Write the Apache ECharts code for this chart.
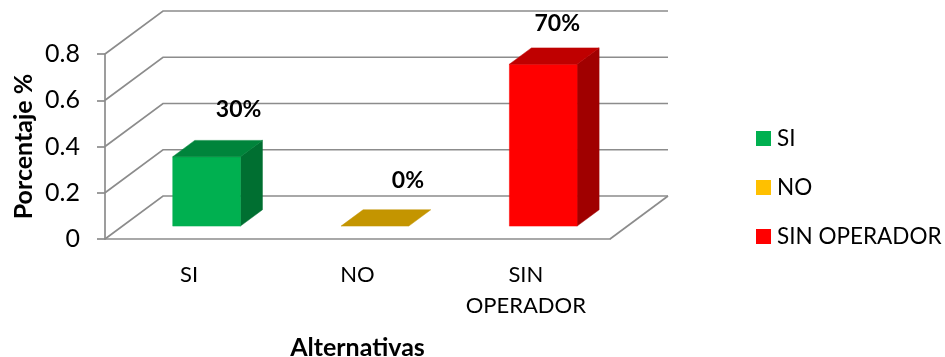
<!DOCTYPE html>
<html><head><meta charset="utf-8">
<style>html,body{margin:0;padding:0;background:#fff}#c{width:945px;height:357px}</style>
<script src="https://cdn.jsdelivr.net/npm/echarts@6/dist/echarts.min.js"></script>
</head><body><div id="c"></div>
<script>
const categories = ['SI', 'NO', 'SIN OPERADOR'];
const values = [0.3, 0, 0.7];
const yTicks = [0, 0.2, 0.4, 0.6, 0.8];

const FONT = 'Lato';
const GRID = '#8c8c8c';
const DEPTH = [58, -43];
const BAR_RATIO = 0.402, FRONT = 0.3, BAR_DEPTH = 0.38;
const faces = [
  {front:'#00B050', top:'#00843B', side:'#006F31', legend:'#00B050'},
  {front:'#FFC000', top:'#C49500', side:'#A67E00', legend:'#FFC000'},
  {front:'#FF0000', top:'#BF0000', side:'#A00000', legend:'#FF0000'}
];
const labelNudge = [[32,-47],[33,-46],[14,-41]];

function poly(pts, fill){
  return {type:'polygon', shape:{points:pts}, style:{fill:fill, stroke:fill, lineWidth:0.5}};
}
function barRender(i){
  return function(params, api){
    const p = api.coord([api.value(0), api.value(1)]);
    const base = api.coord([api.value(0), 0]);
    const band = api.size([1,0])[0];
    const w = band*BAR_RATIO;
    const fx = DEPTH[0]*FRONT, fy = DEPTH[1]*FRONT;
    const dx = DEPTH[0]*BAR_DEPTH, dy = DEPTH[1]*BAR_DEPTH;
    const l = p[0]-w/2+fx, r = p[0]+w/2+fx, t = p[1]+fy, b = base[1]+fy;
    const kids = [];
    if (b-t > 0.5) {
      kids.push(poly([[r,b],[r+dx,b+dy],[r+dx,t+dy],[r,t]], faces[i].side));
      kids.push(poly([[l,b],[r,b],[r,t],[l,t]], faces[i].front));
    }
    kids.push(poly([[l,t],[r,t],[r+dx,t+dy],[l+dx,t+dy]], faces[i].top));
    kids.push({type:'text', style:{
      text: Math.round(api.value(1)*100)+'%',
      x: p[0]+fx+labelNudge[i][0], y: t+labelNudge[i][1],
      align:'center', verticalAlign:'middle',
      font:'bold 23px '+FONT, fill:'#000'}});
    return {type:'group', children:kids};
  };
}
function wallRender(params, api){
  const c = params.coordSys;
  const y = api.coord([0, api.value(1)])[1];
  const L = c.x, R = c.x+c.width;
  const st = {stroke:GRID, lineWidth:1.7, fill:'none'};
  const kids = [{type:'polyline', shape:{points:[[L,y],[L+DEPTH[0],y+DEPTH[1]],[R+DEPTH[0],y+DEPTH[1]]]}, style:st}];
  if (api.value(1) === 0) kids.push({type:'line', shape:{x1:R,y1:y,x2:R+DEPTH[0],y2:y+DEPTH[1]}, style:st});
  return {type:'group', children:kids};
}

const chart = echarts.init(document.getElementById('c'), null, {renderer:'canvas'});
chart.setOption({
  animation:false,
  backgroundColor:'#fff',
  textStyle:{fontFamily:FONT},
  grid:{left:105, top:54, width:505, height:185, containLabel:false, outerBoundsMode:'none'},
  xAxis:{type:'category', data:categories,
    axisLine:{lineStyle:{color:GRID,width:1.7}}, axisTick:{show:false},
    axisLabel:{color:'#000', fontSize:22, fontFamily:FONT, margin:20, lineHeight:31, interval:0,
      formatter:v=>v.replace(' ','\n')},
    name:'Alternativas', nameLocation:'middle', nameGap:96, nameMoveOverlap:false,
    nameTextStyle:{color:'#000', fontWeight:'bold', fontSize:25, fontFamily:FONT}},
  yAxis:{type:'value', min:0, max:0.8, interval:0.2,
    axisLine:{show:true,lineStyle:{color:GRID,width:1.7}},
    axisTick:{show:true,length:8,lineStyle:{color:GRID,width:1.7}},
    splitLine:{show:false},
    axisLabel:{color:'#000', fontSize:25, fontFamily:FONT, margin:25,
      formatter:v=>String(+v.toFixed(1))},
    name:'Porcentaje %', nameLocation:'middle', nameGap:69, nameMoveOverlap:false,
    nameTextStyle:{color:'#000', fontWeight:'bold', fontSize:25, fontFamily:FONT}},
  legend:{orient:'vertical', left:756, top:127, padding:0, itemWidth:15, itemHeight:15, itemGap:26, icon:'rect',
    textStyle:{color:'#000', fontSize:22.5, fontFamily:FONT, padding:[0,0,0,1]},
    data:categories.map((n,i)=>({name:n, itemStyle:{color:faces[i].legend}}))},
  series:[
    {type:'custom', name:'walls', z:1, renderItem:wallRender, silent:true,
      data:yTicks.map(t=>[0,t]), encode:{x:0,y:1}},
    ...categories.map((n,i)=>({
      type:'custom', name:n, z:3+(i), renderItem:barRender(i), clip:false,
      itemStyle:{color:faces[i].legend},
      data:[[i,values[i]]], encode:{x:0,y:1}
    }))
  ]
});
</script></body></html>
